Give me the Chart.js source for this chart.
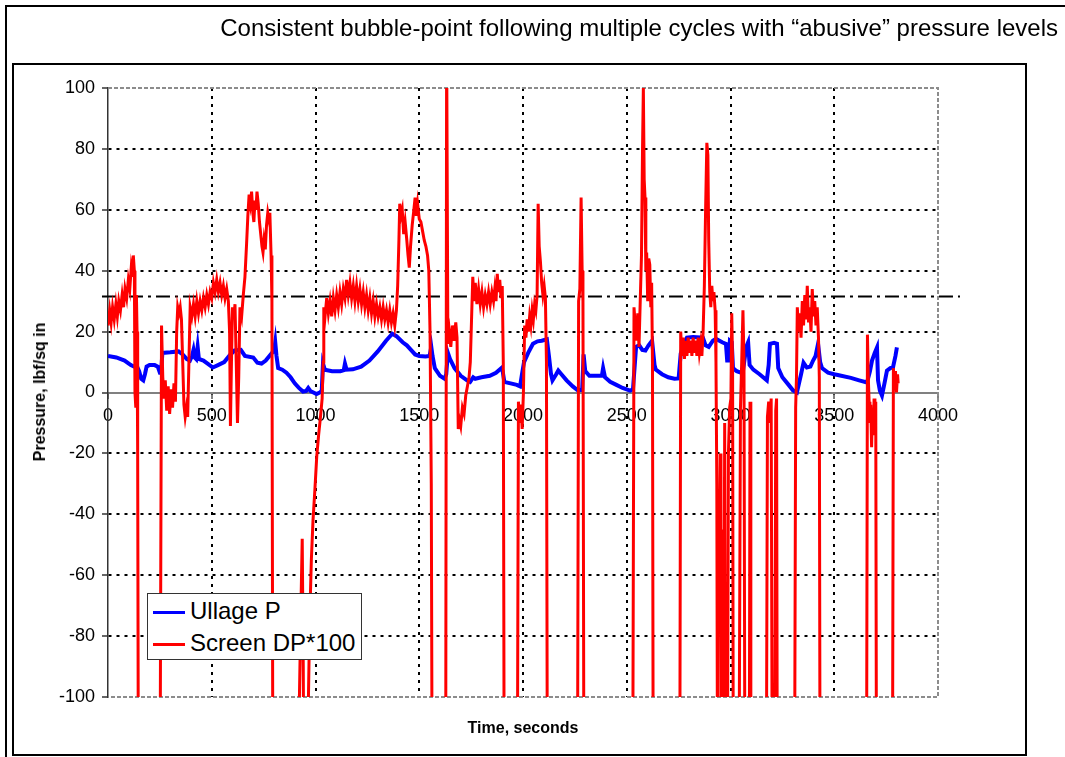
<!DOCTYPE html>
<html>
<head>
<meta charset="utf-8">
<script src="https://cdn.jsdelivr.net/npm/chart.js@4.4.1/dist/chart.umd.min.js"></script>
<style>
  body { margin: 0; background: #fff; }
  #wrap { position: relative; width: 1065px; height: 757px; overflow: hidden;
          font-family: "Liberation Sans", Arial, sans-serif; color: #000; }
  #chart { position: absolute; left: 0; top: 0; }
  .line { position: absolute; background: #000; }
  #inner { position: absolute; left: 12px; top: 63px; width: 1015px; height: 693px;
           border: 2px solid #000; box-sizing: border-box; }
  #title { position: absolute; right: 7px; top: 14px; font-size: 24px; white-space: nowrap; }
  #xtitle { position: absolute; left: 523px; top: 719px; transform: translateX(-50%);
            font-size: 16px; font-weight: bold; white-space: nowrap; }
  #ytitle { position: absolute; left: 40px; top: 392px; transform: translate(-50%, -50%) rotate(-90deg);
            font-size: 16px; font-weight: bold; white-space: nowrap; }
  #legend { position: absolute; left: 147px; top: 593px; width: 215px; height: 67px;
            border: 1px solid #333; background: #fff; box-sizing: border-box; }
  .item { position: absolute; left: 5px; height: 30px; font-size: 24px; line-height: 30px; white-space: nowrap; }
  .swatch { display: inline-block; width: 32px; height: 3px; vertical-align: middle; margin-right: 5px; }
</style>
</head>
<body>
<div id="wrap">
  <div class="line" style="left:5px;top:5px;width:1060px;height:2px"></div>
  <div class="line" style="left:5px;top:5px;width:2px;height:752px"></div>
  <div id="inner"></div>
  <canvas id="chart" width="1065" height="757"></canvas>
  <div id="title">Consistent bubble-point following multiple cycles with “abusive” pressure levels</div>
  <div id="xtitle">Time, seconds</div>
  <div id="ytitle">Pressure, lbf/sq in</div>
  <div id="legend">
    <div class="item" style="top:2px"><span class="swatch" style="background:#0000ff"></span>Ullage P</div>
    <div class="item" style="top:34px"><span class="swatch" style="background:#ff0000"></span>Screen DP*100</div>
  </div>
</div>
<script>
// time (s), pressure (lbf/sq in)
var ullageP = [
  [0,12],[40,11.5],[80,10.5],[110,9],[125,8.5],[140,8.5],[150,7],[160,4.5],[170,4],[178,6],[186,8.5],
  [200,9],[225,9],[240,8.5],[250,6.5],[256,6.5],[262,13],[300,13.2],[340,13.5],[360,12.5],[380,11],
  [395,10.5],[405,12],[412,14],[418,11.5],[425,11],[432,15],[438,11],[460,10.5],[480,9.5],[505,8.2],
  [530,9],[560,10],[590,12.5],[610,13.8],[640,14],[660,12],[700,11.5],[720,9.8],[740,9.5],[760,10.5],
  [790,13],[800,13.5],[806,16.5],[812,12],[820,8],[840,7.5],[860,6.5],[880,5],[900,3],[920,1.5],
  [940,0.3],[955,0.5],[965,1.5],[975,0.5],[990,0],[1005,-0.5],[1020,0],[1030,0.5],[1036,9.5],[1045,7.5],
  [1080,7],[1120,7],[1136,7.3],[1142,9.5],[1150,7.5],[1180,7.6],[1220,8.5],[1260,10.5],[1300,13.5],
  [1340,17],[1370,19.3],[1390,18.5],[1420,16.5],[1440,15.5],[1460,14],[1480,12.5],[1500,12],[1530,11.8],
  [1550,12],[1558,15],[1564,12],[1575,8],[1600,5.5],[1622,4.5],[1630,6],[1638,13],[1648,11],[1670,8],
  [1700,5.5],[1730,4],[1745,3.5],[1760,5],[1770,4.5],[1800,5],[1840,5.5],[1870,6.5],[1895,8],[1902,7],
  [1910,3.5],[1940,3],[1970,2.5],[1986,2],[1995,6],[2005,10],[2025,13],[2048,16],[2070,16.8],[2090,17],
  [2115,17.5],[2125,12],[2135,6],[2142,4],[2160,6],[2170,7.2],[2185,6],[2210,4],[2240,2],[2262,0.8],
  [2285,0.8],[2292,12.5],[2300,7],[2320,5.5],[2350,5.5],[2380,5.5],[2386,8],[2395,5],[2420,3.5],
  [2450,2.5],[2480,1.5],[2516,0.6],[2530,1],[2545,15],[2560,15.5],[2575,14],[2590,13.8],[2605,15.5],
  [2622,17],[2634,9],[2640,7.5],[2670,6],[2700,5],[2730,4.5],[2750,4.6],[2760,12.8],[2775,16],[2790,18],
  [2820,18.2],[2867,18],[2880,15.5],[2895,15],[2915,17],[2930,17.6],[2960,16.5],[2978,16],[2984,10.5],
  [2990,10.5],[2997,17],[3006,16.5],[3012,8],[3030,7],[3046,6.6],[3060,7],[3076,15],[3085,16.5],
  [3092,9],[3110,7.5],[3140,6],[3175,4],[3184,9],[3190,16],[3210,16.3],[3224,16],[3230,8],[3250,5],
  [3280,2.5],[3301,0.7],[3320,0],[3340,6],[3352,9.8],[3368,8.2],[3385,8.5],[3398,10.5],[3410,12],
  [3422,16],[3432,10],[3441,8],[3470,6.5],[3500,6],[3528,5.6],[3580,4.8],[3620,4],[3658,3.3],[3672,7],
  [3682,10.5],[3695,13],[3706,14.8],[3711,4],[3720,0.6],[3730,-1],[3742,3],[3754,7.2],[3770,8],
  [3783,8.2],[3795,12],[3802,14.8]
];

// time (s), screen delta-P x 100; -150 / 115 = off scale
var screenDP = [
  [0,22],[8,27],[15,23],[22,28],[30,24],[38,29],[45,25],[52,30],[60,27],[68,32],[75,28],[82,34],[90,31],
  [98,37],[105,34],[112,41],[118,38],[122,45],[127,40],[130,0],[134,-5],[137,32],[140,20],[143,-20],[147,-150],
  [250,-150],[258,22],[264,5],[270,-2],[276,4],[283,-6],[290,2],[297,-7],[304,1],[311,-5],[318,3],[325,-3],
  [331,20],[336,28],[342,26],[348,28],[354,24],[360,10],[366,-4],[372,-8],[378,-5],[384,-8],[390,10],
  [396,28],[404,25],[412,29],[420,25],[428,30],[436,26],[444,30],[452,27],[460,31],[468,28],[476,32],
  [484,29],[492,33],[500,31],[508,36],[516,33],[524,37],[532,33],[540,36],[548,32],[556,35],[564,31],
  [572,34],[580,30],[586,20],[590,-11],[595,10],[600,28],[606,24],[612,29],[618,10],[624,-10],[630,5],
  [636,28],[644,25],[652,32],[660,38],[668,49],[674,58],[680,65],[686,62],[692,66],[698,59],[703,56],
  [708,63],[713,60],[718,66],[724,62],[730,56],[736,52],[742,48],[747,46],[752,50],[758,47],[764,55],
  [770,59],[775,57],[780,59],[786,45],[790,30],[795,-150],
  [910,-150],[930,-70],[936,-48],[941,-90],[945,-150],[958,-150],[966,-100],[972,-75],[980,-55],[988,-42],
  [997,-32],[1006,-21],[1015,-14],[1024,-8],[1032,-2],[1037,10],[1040,28],
  [1046,25],[1054,31],[1062,26],[1070,30],[1078,25],[1086,31],[1094,27],[1102,32],[1110,28],[1118,33],
  [1126,29],[1134,34],[1142,31],[1150,37],[1158,32],[1166,36],[1174,31],[1182,35],[1190,30],[1198,35],
  [1206,30],[1214,34],[1222,29],[1230,33],[1238,28],[1246,32],[1254,27],[1262,31],[1270,26],[1278,30],
  [1286,25],[1294,29],[1302,25],[1310,28],[1318,24],[1326,28],[1334,24],[1342,27],[1350,23],[1358,27],
  [1366,23],[1374,26],[1382,22],[1390,27],[1396,35],[1402,50],[1406,62],[1412,58],[1418,60],[1425,52],
  [1432,56],[1440,50],[1446,45],[1452,41],[1458,48],[1466,55],[1474,60],[1480,64],[1486,58],[1492,62],
  [1500,57],[1508,56],[1516,53],[1524,50],[1532,48],[1540,45],[1546,40],[1552,20],[1558,-30],[1563,-150],
  [1627,-150],[1632,115],[1638,16],[1645,20],[1652,15],[1660,22],[1668,17],[1676,23],[1682,18],[1688,-12],
  [1694,-9],[1700,-11],[1708,-5],[1716,-7],[1724,-1],[1732,2],[1740,5],[1746,10],[1752,24],[1758,38],
  [1764,30],[1770,36],[1778,29],[1786,34],[1794,29],[1802,33],[1810,28],[1818,32],[1826,29],[1834,33],
  [1842,29],[1850,33],[1858,30],[1864,34],[1870,30],[1876,39],[1882,33],[1888,37],[1894,31],[1900,35],
  [1905,10],[1910,-150],
  [1972,-150],[1978,-3],[1984,-10],[1990,-4],[1996,-12],[2002,0],[2008,22],[2014,18],[2020,24],[2026,20],
  [2032,25],[2038,22],[2044,27],[2050,24],[2056,29],[2062,27],[2068,32],[2073,62],[2078,48],[2084,43],
  [2090,36],[2096,32],[2102,35],[2108,31],[2113,10],[2118,-150],
  [2262,-150],[2268,30],[2274,34],[2280,64],[2285,40],[2289,30],[2294,-150],
  [2528,-150],[2535,28],[2541,22],[2547,17],[2553,26],[2559,15],[2565,30],[2571,45],[2576,80],[2580,100],
  [2584,70],[2588,64],[2592,40],[2596,46],[2601,30],[2606,44],[2611,42],[2616,28],[2620,36],[2624,10],
  [2628,-150],
  [2755,-150],[2760,20],[2766,12],[2772,18],[2778,11],[2784,17],[2790,12],[2796,18],[2802,13],[2808,17],
  [2814,12],[2820,18],[2826,13],[2832,17],[2838,12],[2844,18],[2850,13],[2856,16],[2862,12],[2868,20],
  [2874,35],[2880,60],[2886,82],[2891,78],[2895,50],[2900,33],[2905,28],[2910,35],[2915,30],[2920,33],
  [2926,27],[2930,10],[2934,-30],[2938,-150],[2942,-40],[2946,-55],[2950,-20],[2954,-50],[2958,-150],
  [2962,-45],[2966,-150],[2972,-10],[2976,-150],[2984,-150],[2990,-20],[2996,-5],[3002,-2],[3006,26],
  [3010,10],[3014,-150],
  [3040,-150],[3048,-5],[3054,10],[3060,27],[3065,10],[3070,-150],[3090,-150],[3094,-3],[3098,-150],
  [3172,-150],[3178,-8],[3184,-3],[3190,-10],[3196,-2],[3202,-150],[3212,-150],[3218,-6],[3222,-2],[3226,-150],
  [3308,-150],[3314,-5],[3318,5],[3322,28],[3328,20],[3334,26],[3340,18],[3346,30],[3352,22],[3358,32],
  [3364,24],[3370,35],[3376,23],[3382,28],[3388,20],[3394,34],[3400,25],[3406,30],[3412,22],[3418,28],
  [3424,18],[3428,5],[3432,-150],
  [3655,-150],[3660,19],[3664,5],[3668,-3],[3672,-10],[3676,-4],[3680,-18],[3684,-5],[3688,-14],[3692,-2],
  [3696,-8],[3700,-3],[3704,-150],
  [3780,-150],[3785,8],[3790,2],[3795,7],[3800,0],[3805,6],[3808,3]
];

// bubble-point reference level
var bubblePoint = [[-29,31.5],[4106,31.5]];

var xMin = 0, xMax = 4000, xStep = 500;
var yMin = -100, yMax = 100, yStep = 20;

function toPoints(list) {
  return list.map(function (p) { return {x: p[0], y: p[1]}; });
}

function plainTick(value) {
  return String(value);
}

var plotFrame = {
  id: 'plotFrame',
  beforeDatasetsDraw: function (chart) {
    var a = chart.chartArea, ctx = chart.ctx;
    ctx.save();
    ctx.strokeStyle = '#8c8c8c';
    ctx.lineWidth = 2;
    ctx.setLineDash([4, 2]);
    ctx.beginPath();
    ctx.moveTo(a.left, a.top);
    ctx.lineTo(a.right, a.top);
    ctx.lineTo(a.right, a.bottom);
    ctx.lineTo(a.left, a.bottom);
    ctx.stroke();
    ctx.restore();
  }
};

new Chart(document.getElementById('chart'), {
  type: 'line',
  data: {
    datasets: [
      {
        label: 'Ullage P',
        data: toPoints(ullageP),
        borderColor: '#0000ff',
        borderWidth: 4,
        pointRadius: 0,
        tension: 0,
        order: 2
      },
      {
        label: 'Screen DP*100',
        data: toPoints(screenDP),
        borderColor: '#ff0000',
        borderWidth: 3,
        pointRadius: 0,
        tension: 0,
        order: 1
      },
      {
        label: 'Bubble point',
        data: toPoints(bubblePoint),
        borderColor: '#000000',
        borderWidth: 2,
        borderDash: [14, 5, 3, 5],
        pointRadius: 0,
        clip: false,
        order: 3
      }
    ]
  },
  options: {
    responsive: false,
    animation: false,
    devicePixelRatio: 1,
    layout: { padding: { left: 0, right: 127, top: 88, bottom: 60 } },
    plugins: { legend: { display: false }, tooltip: { enabled: false } },
    scales: {
      x: {
        type: 'linear',
        position: { y: 0 },
        min: xMin, max: xMax,
        ticks: { stepSize: xStep, color: '#000', padding: 8, maxRotation: 0, callback: plainTick,
                 font: { family: '"Liberation Sans", Arial', size: 18 } },
        grid: {
          color: function (c) { return (c.tick && (c.tick.value === xMin || c.tick.value === xMax)) ? 'rgba(0,0,0,0)' : '#000'; },
          lineWidth: 2,
          tickLength: 5,
          tickColor: '#555',
          tickWidth: 1.5,
          tickBorderDash: []
        },
        border: { display: true, color: '#808080', width: 2, dash: [3, 5] }
      },
      y: {
        type: 'linear',
        min: yMin, max: yMax,
        afterFit: function (scale) { scale.width = 108; },
        ticks: { stepSize: yStep, color: '#000', padding: 7, callback: plainTick,
                 font: { family: '"Liberation Sans", Arial', size: 18 } },
        grid: {
          color: function (c) { return (c.tick && (c.tick.value === 0 || c.tick.value === yMin || c.tick.value === yMax)) ? 'rgba(0,0,0,0)' : '#000'; },
          lineWidth: 2,
          tickLength: 6,
          tickColor: '#333',
          tickWidth: 1.5,
          tickBorderDash: []
        },
        border: { display: true, color: '#333', width: 1.5, dash: [3, 5] }
      }
    }
  },
  plugins: [plotFrame]
});
</script>
</body>
</html>
